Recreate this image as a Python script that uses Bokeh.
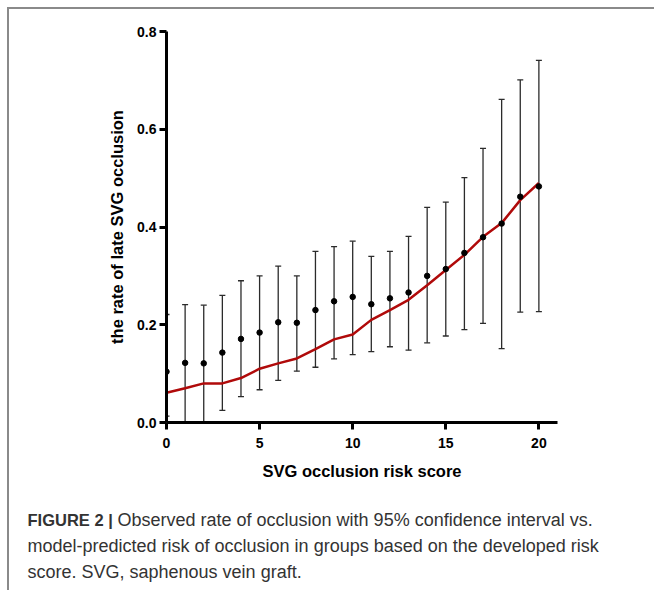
from bokeh.plotting import figure
from bokeh.layouts import column
from bokeh.models import ColumnDataSource, Range1d, FixedTicker, Whisker, TeeHead
from bokeh.core.properties import value
from bokeh.embed import file_html
from bokeh.resources import INLINE

# ---- data ----
scores = [0, 1, 2, 3, 4, 5, 6, 7, 8, 9, 10, 11, 12, 13, 14, 15, 16, 17, 18, 19, 20]
observed = [0.104, 0.122, 0.121, 0.143, 0.171, 0.184, 0.205, 0.204, 0.230, 0.248, 0.257,
            0.242, 0.254, 0.266, 0.300, 0.314, 0.347, 0.379, 0.407, 0.462, 0.483]
ci_lower = [0.013, 0.0, 0.0, 0.025, 0.053, 0.067, 0.086, 0.105, 0.113, 0.130, 0.139,
            0.145, 0.155, 0.148, 0.163, 0.177, 0.190, 0.203, 0.151, 0.226, 0.227]
ci_upper = [0.221, 0.241, 0.240, 0.260, 0.290, 0.300, 0.320, 0.300, 0.350, 0.360, 0.371,
            0.340, 0.350, 0.381, 0.440, 0.451, 0.501, 0.561, 0.661, 0.701, 0.741]
predicted = [0.061, 0.070, 0.080, 0.080, 0.091, 0.110, 0.121, 0.131, 0.150, 0.170, 0.180,
             0.210, 0.230, 0.251, 0.281, 0.312, 0.343, 0.380, 0.408, 0.455, 0.490]
x_ticks = [0, 5, 10, 15, 20]
y_ticks = [0.0, 0.2, 0.4, 0.6, 0.8]
y_tick_labels = ["0.0", "0.2", "0.4", "0.6", "0.8"]
x_title = "SVG occlusion risk score"
y_title = "the rate of late SVG occlusion"
caption_bold = "FIGURE 2 |"
caption_lines = [
    "Observed rate of occlusion with 95% confidence interval vs.",
    "model-predicted risk of occlusion in groups based on the developed risk",
    "score. SVG, saphenous vein graft.",
]

src = ColumnDataSource(dict(x=scores, obs=observed, lo=ci_lower, hi=ci_upper, pred=predicted))

W, H = 654, 590
OFF = 9            # page border (7px margin + 2px line)
CW = W - OFF       # content width
H1 = 500 - OFF     # chart figure height
H2 = H - 500       # caption figure height

p = figure(width=CW, height=H1, output_backend="svg", toolbar_location=None,
           x_range=Range1d(0, 21), y_range=Range1d(0, 0.8),
           min_border_left=166 - OFF, min_border_right=97, min_border_top=31 - OFF,
           min_border_bottom=H1 - (31 - OFF) - 391,
           background_fill_color="white", border_fill_color="white")
p.outline_line_color = None
p.grid.visible = False
p.frame_align = False

font = "Liberation Sans"
for ax in (p.xaxis[0], p.yaxis[0]):
    ax.axis_line_width = 3
    ax.axis_line_color = "black"
    ax.major_tick_line_width = 3
    ax.major_tick_line_color = "black"
    ax.major_tick_out = 7
    ax.major_tick_in = 0
    ax.minor_tick_line_color = None
    ax.major_label_text_font = font
    ax.major_label_text_font_style = "bold"
    ax.major_label_text_font_size = "14px"
    ax.major_label_text_color = "black"
    ax.axis_label_text_font = font
    ax.axis_label_text_font_style = "bold"
    ax.axis_label_text_font_size = "16.5px"
    ax.axis_label_text_color = "black"

p.xaxis.ticker = FixedTicker(ticks=x_ticks)
p.yaxis.ticker = FixedTicker(ticks=y_ticks)
p.yaxis.major_label_overrides = {t: l for t, l in zip(y_ticks, y_tick_labels)}
p.xaxis.axis_label = x_title
p.yaxis.axis_label = y_title
p.xaxis.major_label_standoff = 8
p.yaxis.major_label_standoff = 3
p.xaxis.axis_label_standoff = 11
p.yaxis.axis_label_standoff = 8

# predicted line
p.line("x", "pred", source=src, line_color="#b00a0a", line_width=2.5)

# error bars
wh = Whisker(base="x", lower="lo", upper="hi", source=src, dimension="height",
             line_color="#2b2b2b", line_width=1.3,
             upper_head=TeeHead(size=6, line_color="#2b2b2b", line_width=1.3),
             lower_head=TeeHead(size=6, line_color="#2b2b2b", line_width=1.3))
p.add_layout(wh)

# observed points
p.scatter("x", "obs", source=src, size=5.5, color="black")

# ---- caption panel (pixel-like coordinates, y downwards) ----
cap = figure(width=CW, height=H2, output_backend="svg", toolbar_location=None,
             x_range=Range1d(0, CW), y_range=Range1d(H2, 0),
             min_border=0, background_fill_color="white", border_fill_color="white")
cap.axis.visible = False
cap.grid.visible = False
cap.outline_line_color = None
cap.frame_align = False

cap_color = "#333333"
line_y = [519 - 500, 545 - 500, 571 - 500]
cap.text(x=[27 - OFF], y=[line_y[0]], text=[caption_bold], text_font=value(font),
         text_font_style="bold", text_font_size="16.5px", text_color=cap_color,
         text_baseline="middle")
cap.text(x=[117 - OFF, 27 - OFF, 27 - OFF], y=line_y, text=caption_lines,
         text_font=value(font), text_font_size="18px", text_color=cap_color,
         text_baseline="middle")

layout = column(p, cap, spacing=0,
                styles={"margin-left": "7px", "margin-top": "7px",
                        "border-left": "2px solid #8a8a8a", "border-top": "2px solid #8a8a8a"})

open("out.html", "w").write(file_html(layout, INLINE))
